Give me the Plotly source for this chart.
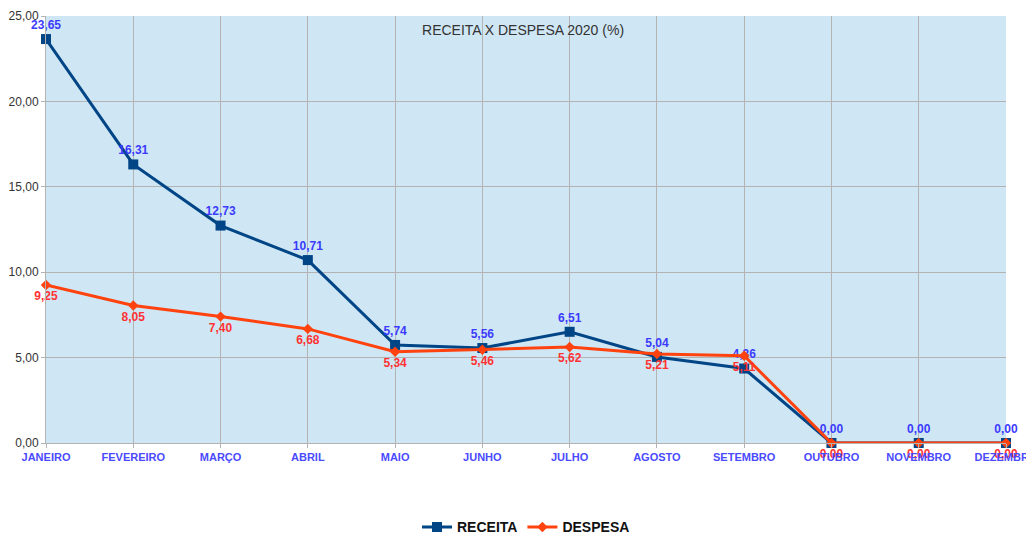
import plotly.graph_objects as go

meses = ["JANEIRO", "FEVEREIRO", "MARÇO", "ABRIL", "MAIO", "JUNHO", "JULHO",
         "AGOSTO", "SETEMBRO", "OUTUBRO", "NOVEMBRO", "DEZEMBRO"]
receita = [23.65, 16.31, 12.73, 10.71, 5.74, 5.56, 6.51, 5.04, 4.36, 0.00, 0.00, 0.00]
despesa = [9.25, 8.05, 7.40, 6.68, 5.34, 5.46, 5.62, 5.21, 5.11, 0.00, 0.00, 0.00]
y_ticks = [0, 5, 10, 15, 20, 25]

fig = go.Figure()
fig.add_trace(go.Scatter(
    x=meses, y=receita, name="RECEITA", mode="lines+markers+text",
    line=dict(color="#004586", width=3),
    marker=dict(symbol="square", size=10, color="#004586"),
    texttemplate="%{y:.2f}", textposition="top center",
    textfont=dict(family="Liberation Sans", size=12, color="#3b3bff", weight="bold"),
    cliponaxis=False,
))
fig.add_trace(go.Scatter(
    x=meses, y=despesa, name="DESPESA", mode="lines+markers+text",
    line=dict(color="#ff420e", width=3),
    marker=dict(symbol="diamond", size=8, color="#ff420e"),
    texttemplate="%{y:.2f}", textposition="bottom center",
    textfont=dict(family="Liberation Sans", size=12, color="#ff3333", weight="bold"),
    cliponaxis=False,
))

fig.update_layout(
    width=1026, height=530,
    margin=dict(l=38, r=28, t=8, b=95),
    paper_bgcolor="white", plot_bgcolor="#cfe6f4",
    separators=",.",
    font=dict(family="Liberation Sans", color="#333333"),
    title=dict(text="RECEITA X DESPESA 2020 (%)", x=0.502, xanchor="center",
               y=0.958, yanchor="middle", font=dict(size=14, color="#333333")),
    showlegend=True,
    legend=dict(orientation="h", x=0.5, xanchor="center",
                yref="container", y=0.02, yanchor="middle",
                font=dict(size=14, color="#111111", weight="bold")),
)
fig.update_xaxes(
    range=[0, 11], showgrid=True, gridcolor="#b3b3b3", gridwidth=1,
    tickfont=dict(size=11, color="#4a4aff", weight="bold"),
    ticks="outside", ticklen=4, tickcolor="#b3b3b3",
    showline=True, linecolor="#b3b3b3", zeroline=False, automargin=False,
)
fig.update_yaxes(
    range=[0, 25], tickvals=y_ticks, tickformat=".2f",
    showgrid=True, gridcolor="#b3b3b3", gridwidth=1,
    tickfont=dict(size=12, color="#333333"),
    ticks="outside", ticklen=4, tickcolor="#b3b3b3",
    showline=True, linecolor="#b3b3b3", zeroline=False, automargin=False,
)
fig.write_html("out.html")
